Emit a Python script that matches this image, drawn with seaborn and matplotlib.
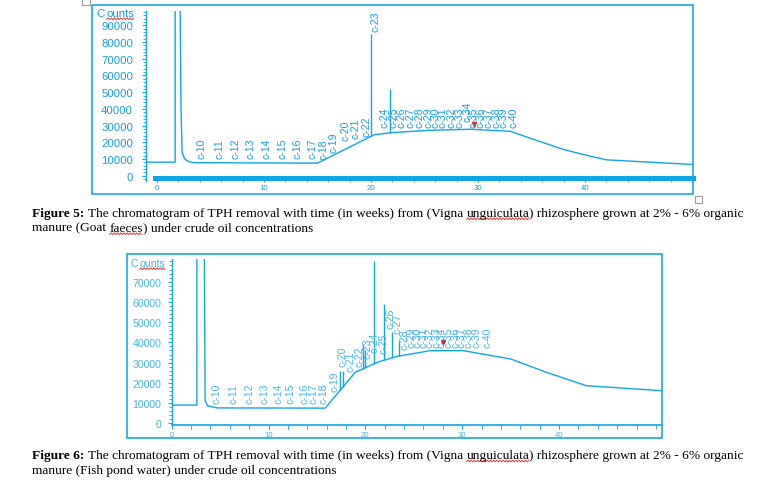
import numpy as np
import matplotlib
matplotlib.use('Agg')
import matplotlib.pyplot as plt
import seaborn as sns
from matplotlib.lines import Line2D
from matplotlib.patches import Rectangle
from matplotlib.ticker import MultipleLocator

# ---- Figure 5: goat faeces ----
time5 = [-1.07, 1.7, 1.7, 2.1, 2.25, 2.35, 2.6, 3.0, 3.5, 15.0, 20.2, 20.4, 22.0,
         25.5, 29.3, 33.0, 35.5, 38.0, 40.2, 42.0, 50.1]
counts5 = [8100, 8100, 150000, 150000, 40000, 14000, 10000, 8300, 7800, 7500, 24200,
           24600, 25800, 27200, 27800, 26600, 21100, 15700, 12100, 9500, 6700]
peak_t5 = [20.0, 21.8]
peak_top5 = [85000, 52000]
carbons5 = list(range(10, 41))
label_t5 = [4.2, 5.8, 7.3, 8.75, 10.2, 11.7, 13.1, 14.55, 15.6, 16.5, 17.6, 18.6, 19.6,
            20.4, 21.3, 22.1, 22.9, 23.7, 24.5, 25.4, 26.0, 26.7, 27.5, 28.3, 29.0,
            29.6, 30.2, 31.0, 31.7, 32.4, 33.3]
label_y5 = [10500] * 8 + [10100, 14100, 21100, 22600, 23800, 86600] + [29200] * 10 \
           + [32500] + [29200] * 6

# ---- Figure 6: fish pond water ----
time6 = [0.0, 2.6, 2.6, 3.3, 3.45, 3.7, 4.7, 15.85, 18.95, 21.2, 23.3, 26.7, 30.1,
         35.0, 38.7, 42.8, 50.6]
counts6 = [9000, 9000, 150000, 150000, 11500, 8600, 7600, 7500, 25200, 30100, 33100,
           35900, 35900, 31800, 25200, 18600, 16100]
peak_t6 = [17.4, 17.7, 19.8, 19.95, 20.9, 21.9, 22.8, 23.5]
peak_top6 = [26000, 26000, 39200, 36000, 80000, 59000, 45000, 40800]
carbons6 = list(range(10, 41))
label_t6 = [4.6, 6.4, 8.0, 9.55, 11.0, 12.3, 13.7, 14.6, 15.65, 16.8, 17.6, 18.5, 19.4,
            20.2, 20.95, 21.9, 22.55, 23.3, 24.0, 24.8, 25.4, 26.0, 26.6, 27.3, 27.9,
            28.6, 29.3, 29.9, 30.7, 31.5, 32.6]
label_y6 = [10000] * 9 + [16100, 28500, 26000, 28500, 32100, 35100, 34800, 47000,
                          44500, 36700] + [37500] * 12

caption5 = [("Figure 5:", "bold", False),
            ("The chromatogram of TPH removal with time (in weeks) from (Vigna", "normal", False),
            ("unguiculata", "normal", True),
            (") rhizosphere grown at 2% - 6% organic", "normal", False)]
caption5b = [("manure (Goat", "normal", False), ("faeces", "normal", True),
             (") under crude oil concentrations", "normal", False)]
caption6 = [("Figure 6:", "bold", False),
            ("The chromatogram of TPH removal with time (in weeks) from (Vigna", "normal", False),
            ("unguiculata", "normal", True),
            (") rhizosphere grown at 2% - 6% organic", "normal", False)]
caption6b = [("manure (Fish pond water) under crude oil concentrations", "normal", False)]

W, H = 765, 481
LINE = '#0EA6E6'
TXT5 = '#129FDE'
TXT6 = '#45B6E8'

sns.set_style('white')
plt.rcParams['font.family'] = ['Liberation Sans', 'DejaVu Sans']

fig = plt.figure(figsize=(W / 100, H / 100), dpi=100)
renderer = fig.canvas.get_renderer()


def px_box(l, t, r, b):
    return [l / W, 1 - b / H, (r - l) / W, (b - t) / H]


def squiggle(x0, x1, y):
    xs = np.arange(x0, x1, 1.6)
    ys = y + np.where(np.arange(len(xs)) % 2 == 0, -0.9, 0.9)
    fig.add_artist(Line2D(xs / W, ys / H, transform=fig.transFigure, color='#E02020', lw=0.6))


def frame(l, t, r, b, color, lw):
    x, y, w, h = px_box(l, t, r, b)
    fig.add_artist(Rectangle((x, y), w, h, transform=fig.transFigure, fill=False,
                             edgecolor=color, lw=lw))


def caption_line(parts, x, y, size=9.6):
    sp = fig.text(0, 0, "a a", family='Liberation Serif', fontsize=size)
    nsp = fig.text(0, 0, "aa", family='Liberation Serif', fontsize=size)
    space = sp.get_window_extent(renderer).width - nsp.get_window_extent(renderer).width
    sp.remove()
    nsp.remove()
    for i, (txt, weight, wavy) in enumerate(parts):
        t = fig.text(x / W, 1 - y / H, txt, family='Liberation Serif', fontsize=size,
                     fontweight=weight, va='baseline', ha='left', color='black')
        bb = t.get_window_extent(renderer)
        if wavy:
            squiggle(bb.x0, bb.x1, (H - y) - 3)
        nxt = parts[i + 1][0] if i + 1 < len(parts) else ''
        x = bb.x1 + (0 if nxt.startswith(')') else space)


def counts_label(ax, x, y, color, size):
    c = ax.text(x, y, "C", transform=ax.transAxes, color=color, fontsize=size,
                va='center', ha='left', clip_on=False)
    bb = c.get_window_extent(renderer)
    o = fig.text((bb.x1 + 2) / W, bb.y0 / H, "ounts", color=color, fontsize=size,
                 va='bottom', ha='left')
    ob = o.get_window_extent(renderer)
    squiggle(ob.x0, ob.x1, ob.y0 - 0.5)


def chromatogram(ax, t, c, pk_t, pk_top, lab_t, lab_y, carbons, txt, ysize, ypad):
    sns.lineplot(x=t, y=c, ax=ax, estimator=None, sort=False, color=LINE, lw=1.0)
    base = np.interp(pk_t, t, c)
    ax.vlines(pk_t, base, pk_top, color=LINE, lw=1.0)
    for lt, ly, cn in zip(lab_t, lab_y, carbons):
        ax.text(lt, ly, f"c-{cn}", rotation=90, ha='center', va='bottom', fontsize=7.6,
                color=txt, clip_on=False)
    ax.set_xlabel('')
    ax.set_ylabel('')
    ax.patch.set_visible(False)
    ax.spines['top'].set_visible(False)
    ax.spines['right'].set_visible(False)
    ax.spines['left'].set_color(LINE)
    ax.spines['left'].set_linewidth(1.0)
    ax.spines['bottom'].set_color(LINE)
    ax.yaxis.set_minor_locator(MultipleLocator(2000))
    ax.xaxis.set_minor_locator(MultipleLocator(2))
    ax.set_xticks([0, 10, 20, 30, 40])
    ax.set_xticklabels(['0', '10', '20', '30', '40'])
    ax.tick_params(axis='y', which='major', length=3, width=0.8, color=LINE,
                   labelcolor=txt, labelsize=ysize, pad=ypad, left=True)
    ax.tick_params(axis='y', which='minor', length=2, width=0.6, color=LINE, left=True)
    ax.tick_params(axis='x', which='major', length=3, width=0.8, color=LINE,
                   labelcolor=txt, labelsize=5.6, pad=1.5, bottom=True)
    ax.tick_params(axis='x', which='minor', length=3, width=0.6, color=LINE, bottom=True)


# top chromatogram
ax5 = fig.add_axes(px_box(145.5, 11.7, 693, 181.7))
ax5.set_xlim(-1.07, 50.1)
ax5.set_ylim(-3000, 98800)
chromatogram(ax5, time5, counts5, peak_t5, peak_top5, label_t5, label_y5, carbons5,
             TXT5, 8.2, 6)
ax5.set_yticks(range(0, 90001, 10000))
ax5.set_yticklabels([str(v) for v in range(0, 90001, 10000)])
ax5.spines['bottom'].set_position(('data', -1400))
ax5.spines['bottom'].set_bounds(-0.2, 50.1)
ax5.spines['bottom'].set_linewidth(3.6)
ax5.plot([29.6], [31200], marker='v', ms=3, color='#E02020')
counts_label(ax5, -0.09, 0.985, TXT5, 8.2)

# bottom chromatogram
ax6 = fig.add_axes(px_box(171.7, 260, 661.7, 426))
ax6.set_xlim(0, 50.6)
ax6.set_ylim(-840, 81200)
chromatogram(ax6, time6, counts6, peak_t6, peak_top6, label_t6, label_y6, carbons6,
             TXT6, 7.6, 4.5)
ax6.set_yticks(range(0, 70001, 10000))
ax6.set_yticklabels([str(v) for v in range(0, 70001, 10000)])
ax6.spines['bottom'].set_linewidth(1.2)
ax6.plot([28.0], [40000], marker='v', ms=3, color='#E02020')
counts_label(ax6, -0.085, 0.975, TXT6, 7.6)

# frames and small markers
frame(92.3, 6, 693.3, 195, '#1AA7E2', 1.2)
frame(126.7, 255, 661.7, 439, '#1AA7E2', 1.2)
frame(695, 197, 702, 203.5, '#9A9A9A', 0.8)
frame(82, 0, 90, 6, '#9A9A9A', 0.8)

# captions
caption_line(caption5, 32, 216.7)
caption_line(caption5b, 32, 231.7)
caption_line(caption6, 32, 459)
caption_line(caption6b, 32, 474.3)

fig.savefig('out.png', dpi=100)
